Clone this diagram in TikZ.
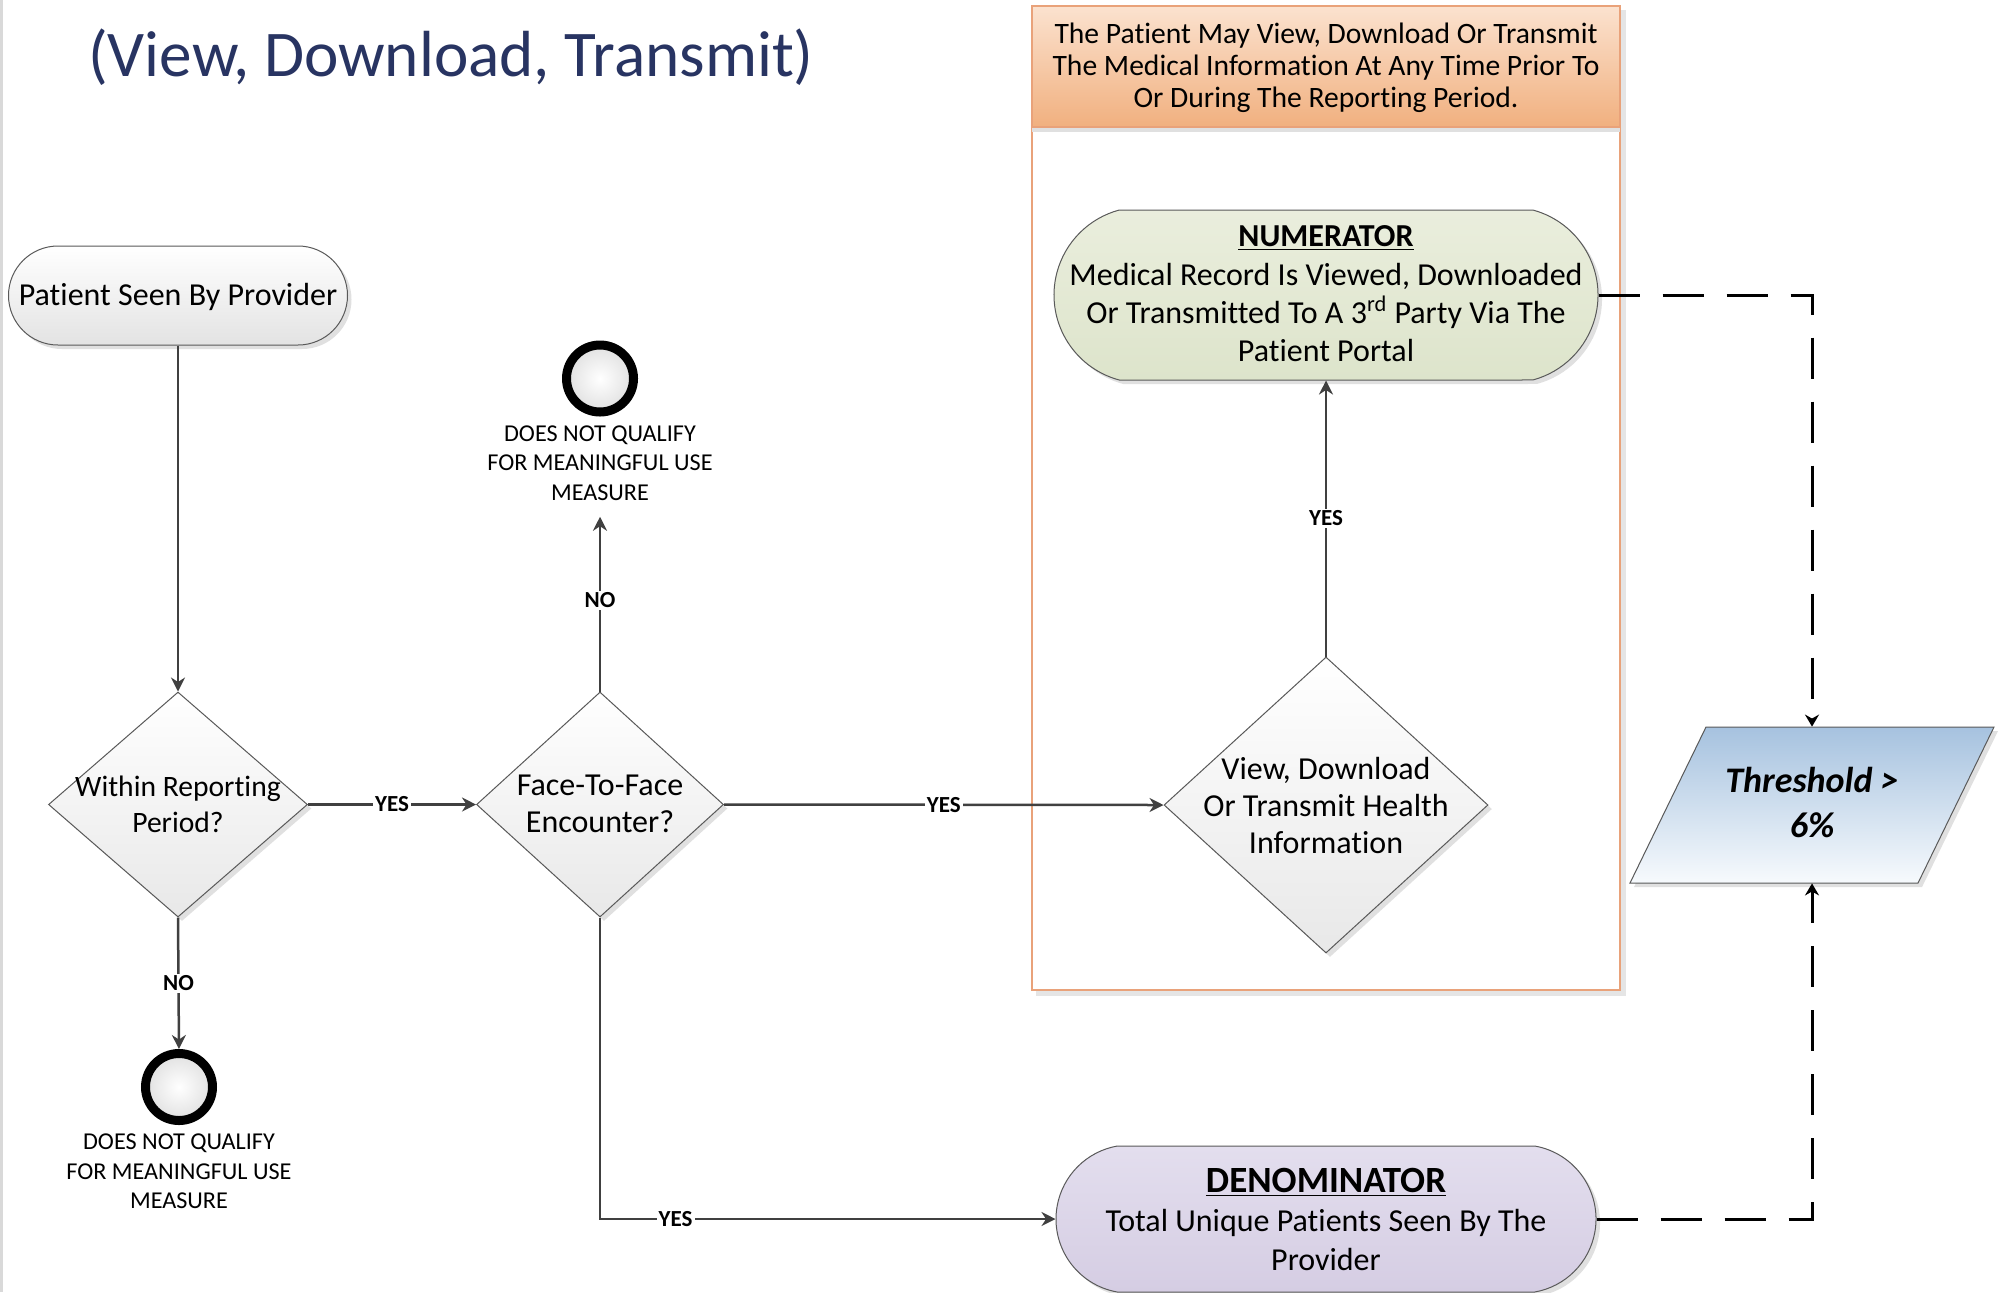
\documentclass[tikz,border=0pt]{standalone}
\usepackage{fontspec}
\setmainfont{Carlito}[Ligatures={NoCommon}]
\usetikzlibrary{shapes.geometric,shapes.misc,arrows.meta,shadows}
\definecolor{cline}{HTML}{404040}
\definecolor{sline}{HTML}{595959}
\definecolor{titleblue}{HTML}{283462}
\definecolor{orl}{HTML}{E9A27A}
\definecolor{hdrtop}{HTML}{FBE2CF}
\definecolor{hdrbot}{HTML}{F1B07F}
\definecolor{numtop}{HTML}{EAEEDD}
\definecolor{numbot}{HTML}{DDE4CB}
\definecolor{dentop}{HTML}{E3DEEE}
\definecolor{denbot}{HTML}{D5CDE3}
\definecolor{thrtop}{HTML}{A6C2DF}
\definecolor{thrbot}{HTML}{F7FAFD}
\newcommand\myfs[2]{\fontsize{#1}{#2}\selectfont}
\tikzset{
 conn/.style={draw=cline, line width=1.25pt, -{Stealth[length=7pt,width=7pt]}},
 dconn/.style={draw=black, line width=1.5pt, dash pattern=on 20.5pt off 11.5pt, -{Stealth[length=6pt,width=7pt]}},
 lbl/.style={fill=white, inner sep=1pt, font=\bfseries\myfs{11.5}{13}},
 shd/.style={general shadow={fill=black!12, shadow xshift=2pt, shadow yshift=-2pt}},
 term/.style={rounded rectangle, draw=sline, line width=0.5pt, inner sep=0pt, shd},
 dia/.style={diamond, draw=sline, line width=0.5pt, inner sep=0pt, top color=white, bottom color=black!9, shd},
 endc/.style={circle, draw=black, line width=4.5pt, inner sep=0pt, minimum size=33.5pt, inner color=white, outer color=black!12},
 endt/.style={align=center, inner sep=0pt, font=\myfs{12.1}{14.7}},
 txt/.style={align=center, inner sep=0pt, font=\myfs{16}{18.5}},
}
\begin{document}
\begin{tikzpicture}[x=0.5pt,y=-0.5pt]
\useasboundingbox (0,0) rectangle (2001,1292);
\fill[white] (0,0) rectangle (2001,1292);
\draw[black!15, line width=1.5pt] (1.5,0) -- (1.5,1292);

% title
\node[anchor=base, inner sep=0pt, font=\myfs{32.6}{38}, text=titleblue] (title) at (451,76) {(View, Download, Transmit)};

% container
\fill[black!10] (1036,10) rectangle (1626,996);
\draw[orl, fill=white, line width=0.75pt] (1032,6) rectangle (1620,990);
\node[rectangle, draw=orl, line width=0.75pt, top color=hdrtop, bottom color=hdrbot,
      minimum width=294pt, minimum height=60.5pt, inner sep=0pt,
      general shadow={fill=black!12, shadow xshift=0pt, shadow yshift=-2.5pt}] (hdr) at (1326,66.5) {};
\node[align=center, inner sep=0pt, font=\myfs{14.8}{16}] (hdrt) at (1326,68)
  {The Patient May View, Download Or Transmit\\The Medical Information At Any Time Prior To\\Or During The Reporting Period.};

% start
\node[term, rounded rectangle arc length=180, minimum width=169.5pt, minimum height=49.5pt,
      top color=white, bottom color=black!11] (start) at (178,295.5) {};
\node[anchor=base, inner sep=0pt, font=\myfs{16}{18.5}] (startt) at (178,305) {Patient Seen By Provider};

% diamonds
\node[dia, minimum width=129.5pt, minimum height=112.5pt] (d1) at (178,804.5) {};
\node[txt, font=\myfs{14.8}{18}] (d1t) at (178,804) {Within Reporting\\Period?};
\node[dia, minimum width=123.5pt, minimum height=112.5pt] (d2) at (600,804.5) {};
\node[txt] (d2t) at (600,804) {Face-To-Face\\Encounter?};
\node[dia, minimum width=162pt, minimum height=148pt] (d3) at (1326,805) {};
\node[txt] (d3t) at (1326,805) {View, Download\\Or Transmit Health\\Information};

% numerator
\node[term, rounded rectangle arc length=150, minimum width=272pt, minimum height=85pt,
      top color=numtop, bottom color=numbot] (num) at (1326,295) {};
\node[align=center, inner sep=0pt, font=\myfs{16}{19.2}] (numt) at (1326,294)
  {{\bfseries\myfs{16}{19.2}\underline{NUMERATOR}}\\Medical Record Is Viewed, Downloaded\\Or Transmitted To A 3\textsuperscript{rd} Party Via The\\Patient Portal};

% denominator
\node[term, rounded rectangle arc length=160, minimum width=270pt, minimum height=73pt,
      top color=dentop, bottom color=denbot] (den) at (1326,1219) {};
\node[align=center, inner sep=0pt, font=\myfs{16}{19.5}] (dent) at (1326,1219)
  {{\bfseries\myfs{18.5}{19.5}\underline{DENOMINATOR}}\\Total Unique Patients Seen By The\\Provider};

% threshold
\fill[black!12] (1710,731) -- (1998,731) -- (1922,887) -- (1634,887) -- cycle;
\draw[sline, line width=0.5pt, top color=thrtop, bottom color=thrbot] (1706,727) -- (1994,727) -- (1918,883) -- (1630,883) -- cycle;
\node[rectangle, inner sep=0pt, minimum width=144pt, minimum height=78pt] (thr) at (1812,805) {};
\node[align=center, inner sep=0pt, font=\bfseries\itshape\myfs{18}{22.5}] (thrt) at (1812,803) {Threshold >\\6\%};

% end points
\node[endc] (nq1) at (600,378.5) {};
\node[endt] (nq1t) at (600,463) {DOES NOT QUALIFY\\FOR MEANINGFUL USE\\MEASURE};
\node[endc] (nq2) at (179,1087) {};
\node[endt] (nq2t) at (179,1171.5) {DOES NOT QUALIFY\\FOR MEANINGFUL USE\\MEASURE};

% connectors
\draw[conn] (start.south) -- (d1.north);
\draw[conn] (d1.east) -- node[lbl]{YES} (d2.west);
\draw[conn, shorten >=8pt] (d2.north) -- node[lbl, pos=0.477]{NO} (nq1t.south);
\draw[conn] (d1.south) -- node[lbl]{NO} (nq2.north);
\draw[conn] (d2.east) -- node[lbl]{YES} (d3.west);
\draw[conn] (d3.north) -- node[lbl]{YES} (num.south);
\draw[conn] (d2.south) |- node[lbl, pos=0.583]{YES} (den.west);
\draw[dconn] (num.east) -| (thr.north);
\draw[dconn] (den.east) -| (thr.south);
\end{tikzpicture}
\end{document}
